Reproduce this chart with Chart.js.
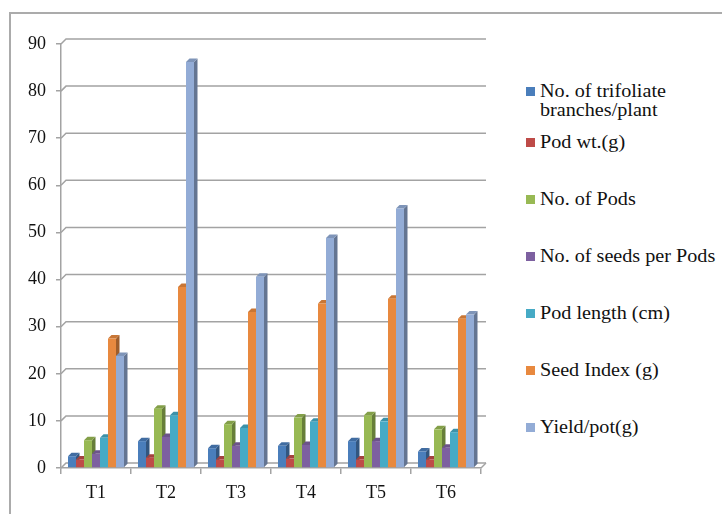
<!DOCTYPE html>
<html>
<head>
<meta charset="utf-8">
<script src="https://cdn.jsdelivr.net/npm/chart.js@4/dist/chart.umd.min.js"></script>
<style>
  html, body { margin: 0; padding: 0; background: #fff; }
  body { width: 722px; height: 514px; position: relative; overflow: hidden; }
  #frame { position: absolute; left: 9px; top: 12px; width: 720px; height: 510px;
           border-top: 2px solid #ababab; border-left: 2px solid #ababab; }
  #chart { position: absolute; left: 0; top: 0; }
  #legend { position: absolute; left: 526px; top: 82px; }
  .item { position: relative; padding-left: 14px; width: 165px;
          font-family: "Liberation Serif", "DejaVu Serif", serif;
          font-size: 18px; line-height: 19px; color: #111; }
  .item .box { position: absolute; left: 0; top: 5px; width: 9px; height: 9px; }
  .item .txt { display: block; transform: scaleX(1.12); transform-origin: 0 0; }
  .item:nth-child(2) { margin-top: 13px; }
  .item:nth-child(n+3) { margin-top: 38px; }
</style>
</head>
<body>
<div id="frame"></div>
<canvas id="chart" width="500" height="514"></canvas>
<div id="legend"></div>
<script>
// Treatments
const categories = ['T1', 'T2', 'T3', 'T4', 'T5', 'T6'];

// Measured traits per treatment
const trifoliateBranches = [2.5, 5.7, 4.2, 4.7, 5.7, 3.5];
const podWeight          = [1.8, 2.2, 1.8, 2.0, 1.8, 1.8];
const podCount           = [5.9, 12.6, 9.3, 10.7, 11.2, 8.2];
const seedsPerPod        = [3.0, 6.6, 4.7, 4.9, 5.7, 4.3];
const podLength          = [6.4, 11.2, 8.5, 9.8, 9.9, 7.6];
const seedIndex          = [27.5, 38.4, 33.1, 34.9, 35.9, 31.7];
const yieldPerPot        = [23.8, 86.2, 40.6, 48.8, 55.1, 32.6];

const seriesNames = [
  'No. of trifoliate branches/plant',
  'Pod wt.(g)',
  'No. of Pods',
  'No. of seeds per Pods',
  'Pod length (cm)',
  'Seed Index (g)',
  'Yield/pot(g)'
];
const seriesValues = [trifoliateBranches, podWeight, podCount, seedsPerPod, podLength, seedIndex, yieldPerPot];
const seriesColors = ['#4a7ebb', '#be4b48', '#98b954', '#7d60a0', '#46aac5', '#e8893f', '#93acd6'];

// Value-axis ticks
const yTicks = [0, 10, 20, 30, 40, 50, 60, 70, 80, 90];

const FONT = { family: '"Liberation Serif", "Times New Roman", serif', size: 18 };
const LINE = '#a3a3a3';
const DEPTH = 3.5;   // pseudo-3D depth offset of walls and columns

function shade(hex, f) {
  const n = parseInt(hex.slice(1), 16);
  const r = Math.round(((n >> 16) & 255) * f);
  const g = Math.round(((n >> 8) & 255) * f);
  const b = Math.round((n & 255) * f);
  return `rgb(${r},${g},${b})`;
}

function poly(ctx, pts, fill) {
  ctx.beginPath();
  ctx.moveTo(pts[0][0], pts[0][1]);
  for (let i = 1; i < pts.length; i++) ctx.lineTo(pts[i][0], pts[i][1]);
  ctx.closePath();
  ctx.fillStyle = fill;
  ctx.fill();
}

// Back-wall gridlines, then column side/top faces (front faces are painted by the bar controller)
const depth3d = {
  id: 'depth3d',
  beforeDatasetsDraw(chart) {
    const { ctx, chartArea: a, scales: { y } } = chart;
    const w = DEPTH + 1.5;
    ctx.save();
    ctx.strokeStyle = LINE;
    ctx.lineWidth = 1.5;
    y.ticks.forEach(t => {
      const py = y.getPixelForValue(t.value);
      ctx.beginPath();
      ctx.moveTo(a.left, py);
      ctx.lineTo(a.left + w, py - w);
      ctx.lineTo(a.right + w, py - w);
      ctx.stroke();
    });
    ctx.beginPath();
    ctx.moveTo(a.right, a.bottom);
    ctx.lineTo(a.right + w, a.bottom - w);
    ctx.stroke();

    const d = DEPTH;
    chart.data.datasets.forEach((ds, i) => {
      const meta = chart.getDatasetMeta(i);
      const side = shade(seriesColors[i], 0.68);
      const top = shade(seriesColors[i], 0.86);
      meta.data.forEach(el => {
        const { x, y: yTop, base, width } = el.getProps(['x', 'y', 'base', 'width'], true);
        const l = x - width / 2, r = x + width / 2;
        poly(ctx, [[r, yTop], [r + d, yTop - d], [r + d, base - d], [r, base]], side);
        poly(ctx, [[l, yTop], [l + d, yTop - d], [r + d, yTop - d], [r, yTop]], top);
      });
    });
    ctx.restore();
  }
};

const datasets = seriesNames.map((name, i) => ({
  label: name,
  data: seriesValues[i],
  backgroundColor: seriesColors[i],
  borderWidth: 0
}));

new Chart(document.getElementById('chart'), {
  type: 'bar',
  data: { labels: categories, datasets },
  plugins: [depth3d],
  options: {
    responsive: false,
    animation: false,
    layout: { padding: { top: 44, right: 19, left: 0, bottom: 0 } },
    datasets: { bar: { categoryPercentage: 0.8, barPercentage: 1.0 } },
    plugins: { legend: { display: false }, tooltip: { enabled: false } },
    scales: {
      x: {
        grid: { drawOnChartArea: false, drawTicks: true, tickLength: 6, color: LINE, lineWidth: 1.5 },
        border: { display: true, color: LINE, width: 1.5 },
        ticks: { font: FONT, color: '#111', padding: 8, maxRotation: 0 },
        afterFit(s) { s.height = 46; }
      },
      y: {
        min: 0,
        max: 90,
        afterBuildTicks(s) { s.ticks = yTicks.map(v => ({ value: v })); },
        grid: { drawOnChartArea: false, drawTicks: true, tickLength: 5, color: LINE, lineWidth: 1.5 },
        border: { display: true, color: LINE, width: 1.5 },
        ticks: { font: FONT, color: '#111', padding: 10 },
        afterFit(s) { s.width = 61; }
      }
    }
  }
});

// Legend
const legend = document.getElementById('legend');
seriesNames.forEach((name, i) => {
  const item = document.createElement('div');
  item.className = 'item';
  const box = document.createElement('span');
  box.className = 'box';
  box.style.background = seriesColors[i];
  const txt = document.createElement('span');
  txt.className = 'txt';
  txt.textContent = name;
  item.appendChild(box);
  item.appendChild(txt);
  legend.appendChild(item);
});
</script>
</body>
</html>
